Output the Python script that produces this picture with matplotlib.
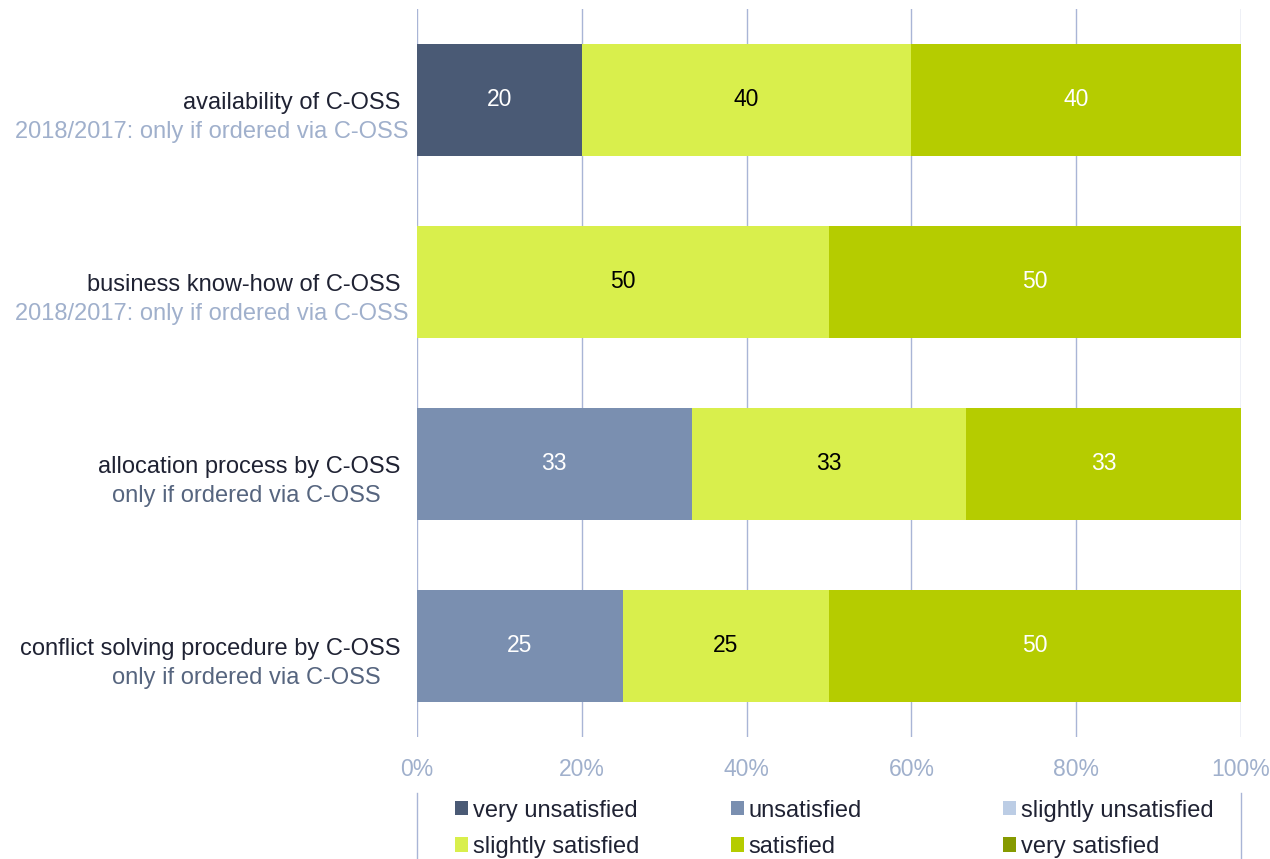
import matplotlib
matplotlib.use("Agg")
import matplotlib.pyplot as plt
from matplotlib.patches import Patch
from matplotlib.lines import Line2D
import numpy as np

plt.rcParams['font.family'] = ['Liberation Sans', 'DejaVu Sans']

categories = ["availability of C-OSS", "business know-how of C-OSS",
              "allocation process by C-OSS", "conflict solving procedure by C-OSS"]
subtitles = ["2018/2017: only if ordered via C-OSS", "2018/2017: only if ordered via C-OSS",
             "only if ordered via C-OSS", "only if ordered via C-OSS"]
series = ["very unsatisfied", "unsatisfied", "slightly unsatisfied",
          "slightly satisfied", "satisfied", "very satisfied"]
values = {
    "very unsatisfied":     [20, 0, 0, 0],
    "unsatisfied":          [0, 0, 33.33, 25],
    "slightly unsatisfied": [0, 0, 0, 0],
    "slightly satisfied":   [40, 50, 33.33, 25],
    "satisfied":            [40, 50, 33.33, 50],
    "very satisfied":       [0, 0, 0, 0],
}
colors = ["#4a5a75", "#7a8fb0", "#bccde5", "#d9ef4c", "#b5cc00", "#869a00"]
text_colors = ["white", "white", "black", "black", "white", "white"]
xticks = [0, 20, 40, 60, 80, 100]
xticklabels = ["0%", "20%", "40%", "60%", "80%", "100%"]

FS = 17

fig = plt.figure(figsize=(12.7, 8.59), dpi=100)
ax = fig.add_axes([417/1270, 1 - 737/859, 824/1270, 728/859])

y = np.arange(len(categories))
left = np.zeros(len(categories))
for s, c, tc in zip(series, colors, text_colors):
    v = np.array(values[s], dtype=float)
    ax.barh(y, v, left=left, height=0.62, color=c, zorder=2)
    for i in range(len(categories)):
        if v[i] > 0:
            ax.text(left[i] + v[i] / 2, y[i], f"{round(v[i]):d}", ha="center", va="center",
                    color=tc, fontsize=16.5, zorder=3)
    left += v

ax.set_xlim(0, 100)
ax.set_ylim(len(categories) - 0.5, -0.5)
ax.set_xticks(xticks)
ax.set_xticklabels(xticklabels, color="#a0b0cc", fontsize=16.5)
ax.set_yticks([])
ax.tick_params(axis="x", length=0, pad=15)
ax.grid(axis="x", color="#a9b5d6", linewidth=1, zorder=0)
for sp in ax.spines.values():
    sp.set_visible(False)

trans = matplotlib.transforms.blended_transform_factory(ax.transAxes, ax.transData)
sub_x = [-0.0109, -0.0109, -0.0437, -0.0437]
sub_colors = ["#a0b0cc", "#a0b0cc", "#56657f", "#56657f"]
for i, (cat, sub) in enumerate(zip(categories, subtitles)):
    ax.text(-0.0206, y[i] + 0.015, cat, transform=trans, ha="right", va="center",
            fontsize=FS, color="#1f2233")
    ax.text(sub_x[i], y[i] + 0.178, sub, transform=trans, ha="right", va="center",
            fontsize=FS, color=sub_colors[i])

# legend: three columns, filled row-wise
col_x = [0.0461, 0.381, 0.711]
legs = []
for k in range(3):
    idx = [k, k + 3]
    handles = [Patch(facecolor=colors[j], edgecolor="none") for j in idx]
    labels = [series[j] for j in idx]
    leg = ax.legend(handles, labels, loc="upper left", bbox_to_anchor=(col_x[k], -0.086),
                    frameon=False, fontsize=FS, handlelength=0.55, handleheight=0.55,
                    handletextpad=0.2, labelspacing=0.6, borderaxespad=0, borderpad=0)
    for t in leg.get_texts():
        t.set_color("#1f2233")
    legs.append(leg)
for leg in legs[:-1]:
    ax.add_artist(leg)

for xp in [417, 1241]:
    fig.add_artist(Line2D([xp/1270, xp/1270], [0, 1 - 793/859], color="#a9b5d6", linewidth=1))

fig.savefig("out.png", dpi=100, facecolor="white")
